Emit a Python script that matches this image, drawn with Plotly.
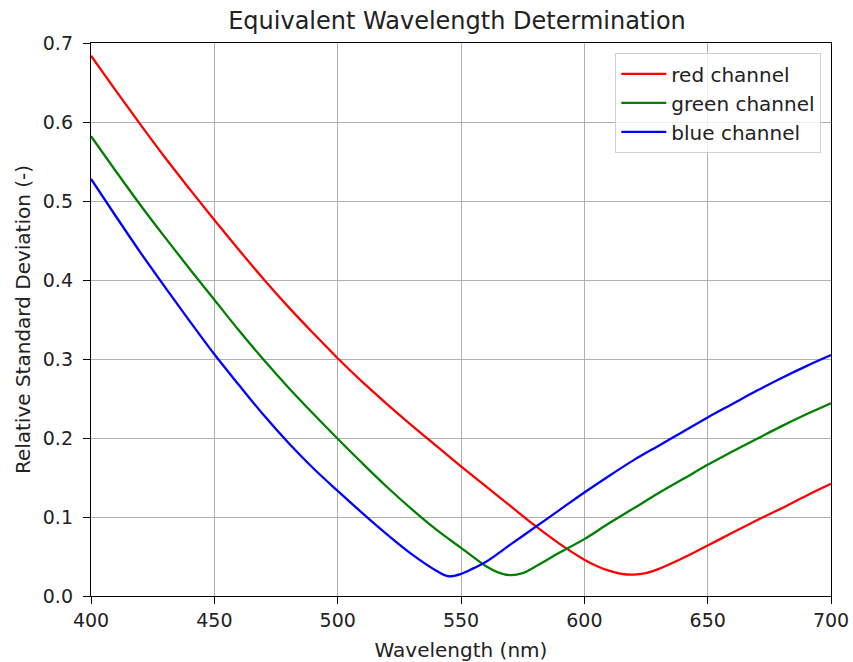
import plotly.graph_objects as go

wavelength_red = [400, 410, 420, 430, 440, 450, 460, 470, 480, 490, 500, 510, 520, 530, 540, 550, 560, 570, 580, 590, 600, 605, 610, 615, 620, 625, 630, 640, 650, 660, 670, 680, 690, 700]
red_channel = [0.684, 0.640, 0.597, 0.555, 0.515, 0.476, 0.438, 0.401, 0.366, 0.333, 0.301, 0.271, 0.243, 0.216, 0.190, 0.164, 0.139, 0.114, 0.089, 0.066, 0.046, 0.038, 0.032, 0.028, 0.027, 0.029, 0.034, 0.048, 0.064, 0.080, 0.096, 0.111, 0.127, 0.142]

wavelength_green = [400, 410, 420, 430, 440, 450, 460, 470, 480, 490, 500, 510, 520, 530, 540, 550, 560, 565, 570, 575, 580, 590, 600, 610, 620, 630, 640, 650, 660, 670, 680, 690, 700]
green_channel = [0.582, 0.538, 0.495, 0.454, 0.414, 0.375, 0.336, 0.299, 0.264, 0.231, 0.199, 0.168, 0.138, 0.110, 0.084, 0.061, 0.038, 0.030, 0.0265, 0.029, 0.037, 0.055, 0.072, 0.092, 0.111, 0.130, 0.148, 0.166, 0.183, 0.199, 0.215, 0.230, 0.244]

wavelength_blue = [400, 410, 420, 430, 440, 450, 460, 470, 480, 490, 500, 510, 520, 530, 540, 545, 550, 555, 560, 570, 580, 590, 600, 610, 620, 630, 640, 650, 660, 670, 680, 690, 700]
blue_channel = [0.528, 0.481, 0.435, 0.391, 0.348, 0.306, 0.267, 0.229, 0.194, 0.162, 0.133, 0.105, 0.078, 0.053, 0.032, 0.025, 0.028, 0.035, 0.043, 0.065, 0.087, 0.109, 0.131, 0.152, 0.172, 0.190, 0.208, 0.226, 0.243, 0.260, 0.276, 0.291, 0.305]

x_ticks = [400, 450, 500, 550, 600, 650, 700]
y_ticks = [0.0, 0.1, 0.2, 0.3, 0.4, 0.5, 0.6, 0.7]

FONT = "DejaVu Sans"
TXT = "#222222"

W, H = 853, 662
ML, MT, MR, MB = 91, 43, 22, 66

fig = go.Figure()
for i, (name, xs, ys, col) in enumerate([
    ("red channel", wavelength_red, red_channel, "#ff0000"),
    ("green channel", wavelength_green, green_channel, "#008000"),
    ("blue channel", wavelength_blue, blue_channel, "#0000ff"),
]):
    fig.add_trace(go.Scatter(x=xs, y=ys, mode="lines", name=name, legendgroup=f"g{i}",
                             line=dict(color=col, width=2.3, shape="spline", smoothing=1.0)))

axis_common = dict(
    showline=True, linecolor="black", linewidth=1.4, mirror=True,
    ticks="outside", ticklen=7, tickwidth=1.4, tickcolor="black",
    showgrid=True, gridcolor="#b0b0b0", gridwidth=1.4,
    zeroline=False, automargin=False,
    tickfont=dict(family=FONT, size=19, color=TXT),
)

fig.update_layout(
    width=W, height=H,
    paper_bgcolor="white", plot_bgcolor="white",
    margin=dict(l=ML, r=MR, t=MT, b=MB),
    font=dict(family=FONT, size=20, color=TXT),
    title=dict(text="Equivalent Wavelength Determination", x=(ML + 366) / W, xanchor="center",
               y=1 - 21 / H, yanchor="middle", yref="container",
               font=dict(family=FONT, size=24, color=TXT)),
    xaxis=dict(range=[400, 700], tickvals=x_ticks, ticktext=[str(v) for v in x_ticks],
               title=dict(text="Wavelength (nm)", standoff=12, font=dict(family=FONT, size=20, color=TXT)),
               **axis_common),
    yaxis=dict(range=[0, 0.7], tickvals=y_ticks, ticktext=[f"{v:.1f}" for v in y_ticks],
               ticklabelstandoff=6,
               title=dict(text="Relative Standard Deviation (-)", standoff=6, font=dict(family=FONT, size=20, color=TXT)),
               **axis_common),
    legend=dict(x=(821 - ML) / 740, y=(596 - 53) / 553, xanchor="right", yanchor="top",
                bgcolor="rgba(255,255,255,0.8)", bordercolor="#d0d0d0", borderwidth=1.3,
                itemwidth=45,
                font=dict(family=FONT, size=20, color=TXT), tracegroupgap=5, traceorder="normal"),
    showlegend=True,
)

# remove the browser's default 8px body margin so the figure sits at the window's corner
fig.write_html("out.html", config={"displayModeBar": False},
               post_script="document.body.style.margin='0px';")
